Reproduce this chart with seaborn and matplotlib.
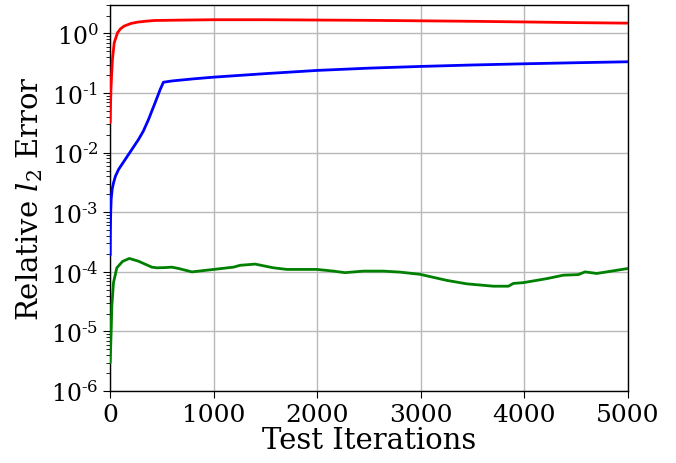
import pandas as pd
import matplotlib
matplotlib.use('Agg')
import matplotlib.pyplot as plt
import matplotlib.ticker as mticker
import seaborn as sns
import numpy as np

# Red curve
red_x = [0, 3, 7, 13, 22, 39, 71, 100, 135, 200, 264, 350, 425, 618, 1000, 1500, 2000, 2500, 3000, 3500, 4000, 4500, 5000]
red_y = [0.032, 0.06, 0.11, 0.19, 0.37, 0.70, 1.03, 1.2, 1.33, 1.47, 1.55, 1.61, 1.65, 1.67, 1.70, 1.70, 1.68, 1.66, 1.63, 1.60, 1.56, 1.52, 1.49]

# Blue curve
blue_x = [0, 2, 5, 10, 20, 32, 50, 80, 145, 209, 273, 320, 370, 434, 483, 514,
          600, 800, 1000, 1500, 2000, 2500, 3000, 3500, 4000, 4500, 5000]
blue_y = [1.9e-4, 5e-4, 1e-3, 1.7e-3, 2.5e-3, 3.1e-3, 4e-3, 5.2e-3, 7.7e-3, 0.0113, 0.0166, 0.023, 0.036, 0.069, 0.115, 0.152,
          0.16, 0.173, 0.185, 0.212, 0.24, 0.262, 0.28, 0.296, 0.31, 0.323, 0.335]

# Green curve
green_x = [0, 10, 16, 32, 64, 120, 185, 273, 402, 450, 531, 595, 660, 789, 1000, 1190, 1255, 1400, 1576, 1705,
           1995, 2156, 2268, 2445, 2638, 2800, 2992, 3250, 3443, 3700, 3845, 3893, 3990, 4215, 4375, 4520,
           4585, 4698, 5000]
green_y = [3e-6, 1.07e-5, 2.7e-5, 6.6e-5, 1.17e-4, 1.5e-4, 1.68e-4, 1.51e-4, 1.2e-4, 1.17e-4, 1.18e-4, 1.2e-4, 1.14e-4, 1.0e-4, 1.1e-4, 1.2e-4,
           1.29e-4, 1.35e-4, 1.17e-4, 1.1e-4, 1.1e-4, 1.03e-4, 9.7e-5, 1.03e-4, 1.03e-4, 9.9e-5, 9.1e-5, 7.2e-5, 6.3e-5, 5.75e-5,
           5.75e-5, 6.4e-5, 6.6e-5, 7.7e-5, 8.8e-5, 9e-5, 1.0e-4, 9.4e-5, 1.14e-4]

x_ticks = [0, 1000, 2000, 3000, 4000, 5000]

df = pd.concat([
    pd.DataFrame({'iter': red_x, 'err': red_y, 'curve': 'red'}),
    pd.DataFrame({'iter': blue_x, 'err': blue_y, 'curve': 'blue'}),
    pd.DataFrame({'iter': green_x, 'err': green_y, 'curve': 'green'}),
])

sns.set_style('ticks', rc={'text.color': 'black', 'axes.labelcolor': 'black',
                           'xtick.color': 'black', 'ytick.color': 'black',
                           'axes.edgecolor': 'black'})
plt.rcParams['font.family'] = ['DejaVu Serif']
plt.rcParams['mathtext.fontset'] = 'dejavuserif'

fig = plt.figure(figsize=(6.76, 4.64), dpi=100)
ax = fig.add_axes([0.163, 0.155, 0.766, 0.832])

sns.lineplot(data=df, x='iter', y='err', hue='curve', sort=False, estimator=None,
             palette={'red': 'red', 'blue': 'blue', 'green': 'green'},
             linewidth=2, legend=False, ax=ax, zorder=3)

ax.set_yscale('log')
ax.set_xlim(0, 5000)
ax.set_ylim(1e-6, 3)
ax.set_xticks(x_ticks)


def log_fmt(v, pos):
    e = int(round(np.log10(v)))
    if e < 0:
        return r'$10^{\text{-}%d}$' % (-e)
    return r'$10^{%d}$' % e


ax.yaxis.set_major_formatter(mticker.FuncFormatter(log_fmt))
ax.grid(True, which='major', color='#b8b8b8', linewidth=1)
ax.set_axisbelow(True)
for s in ax.spines.values():
    s.set_linewidth(1)
ax.tick_params(axis='x', which='major', labelsize=18, length=5)
ax.tick_params(axis='y', which='major', labelsize=17, length=5)
ax.tick_params(axis='y', which='minor', length=3)
ax.set_xlabel('Test Iterations', fontsize=21, labelpad=0)
ax.set_ylabel('Relative $l_2$ Error', fontsize=21, labelpad=4)

fig.savefig('out.png', dpi=100)
